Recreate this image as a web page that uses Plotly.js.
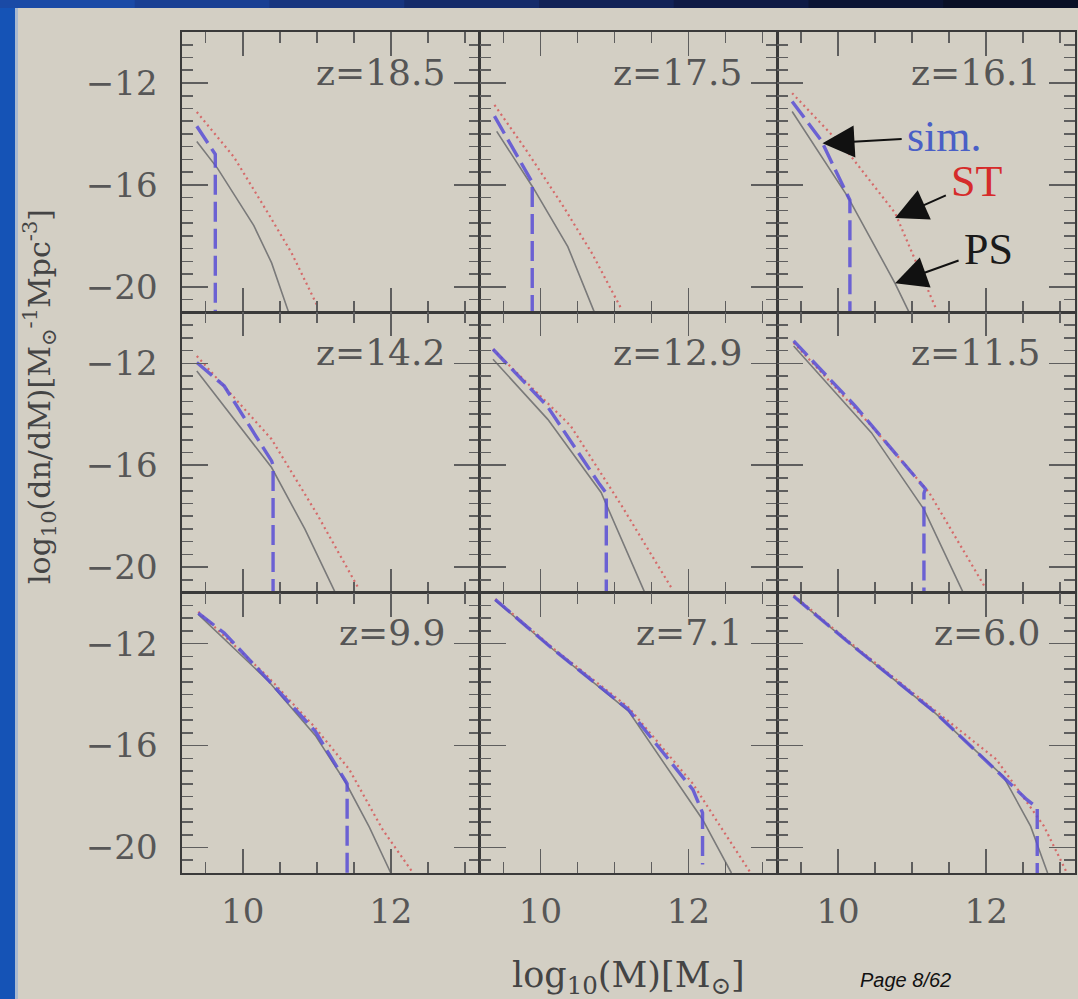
<!DOCTYPE html>
<html>
<head>
<meta charset="utf-8">
<script src="https://cdn.plot.ly/plotly-3.0.1.min.js"></script>
<style>
html,body{margin:0;padding:0;background:#d3cfc4;}
#plot{width:1078px;height:999px;}
</style>
</head>
<body>
<div id="plot"></div>
<script>
// ---- data ----
const zLabels = ['z=18.5','z=17.5','z=16.1','z=14.2','z=12.9','z=11.5','z=9.9','z=7.1','z=6.0'];

// Press-Schechter (solid gray)
const psX = [
  [9.38, 9.66, 9.90, 10.15, 10.39, 10.62],
  [9.41, 9.90, 10.37, 10.73],
  [9.38, 10.13, 10.77, 10.96],
  [9.38, 10.39, 10.84, 11.25],
  [9.36, 10.10, 10.82, 11.41],
  [9.40, 10.45, 11.16, 11.69],
  [9.40, 10.34, 10.98, 11.39, 11.71, 12.00],
  [9.39, 10.18, 11.19, 12.19, 12.58],
  [9.40, 10.18, 11.32, 12.23, 12.60, 12.83]
];
const psY = [
  [-14.30, -15.35, -16.45, -17.60, -19.06, -21.0],
  [-13.90, -16.10, -18.42, -21.0],
  [-13.12, -16.46, -19.86, -21.0],
  [-12.30, -16.09, -18.51, -21.0],
  [-11.84, -14.20, -17.07, -21.0],
  [-11.32, -14.72, -17.73, -21.0],
  [-10.85, -13.45, -15.60, -17.45, -19.20, -21.0],
  [-10.30, -12.25, -14.65, -18.90, -21.0],
  [-10.15, -12.05, -14.75, -17.20, -19.16, -21.0]
];

// Sheth-Tormen (dotted red)
const stX = [
  [9.38, 9.88, 10.34, 10.66, 11.00],
  [9.38, 9.80, 10.30, 10.70, 11.10],
  [9.38, 10.10, 10.77, 11.32],
  [9.38, 10.39, 11.00, 11.57],
  [9.36, 10.41, 11.10, 11.78],
  [9.40, 10.45, 11.23, 12.00],
  [9.40, 10.34, 10.98, 11.44, 11.89, 12.30],
  [9.39, 10.18, 11.19, 12.06, 12.37, 12.84],
  [9.40, 10.18, 11.32, 12.14, 12.78, 13.08]
];
const stY = [
  [-13.14, -14.90, -17.10, -18.67, -20.70],
  [-12.86, -14.60, -16.80, -18.70, -20.90],
  [-12.40, -14.60, -17.10, -20.84],
  [-11.71, -14.98, -17.90, -20.86],
  [-11.45, -14.46, -17.60, -20.86],
  [-11.19, -14.46, -17.07, -20.86],
  [-10.75, -13.30, -15.30, -16.94, -19.30, -21.0],
  [-10.25, -12.20, -14.50, -17.50, -18.90, -21.0],
  [-10.10, -12.00, -14.65, -16.55, -19.16, -20.93]
];

// Simulation (dashed blue) incl. the drop to the last bin
const simX = [
  [9.38, 9.63, 9.63],
  [9.38, 9.89, 9.89],
  [9.38, 9.77, 10.16, 10.16],
  [9.38, 9.75, 10.39, 10.41, 10.41],
  [9.36, 10.09, 10.80, 10.89, 10.89],
  [9.40, 10.23, 11.18, 11.16, 11.16],
  [9.40, 9.75, 10.34, 10.98, 11.39, 11.41, 11.41],
  [9.39, 10.18, 11.19, 12.06, 12.19, 12.19],
  [9.40, 10.18, 11.32, 12.55, 12.69, 12.69]
];
const simY = [
  [-13.70, -14.80, -21.0],
  [-13.30, -15.90, -21.0],
  [-12.73, -14.24, -16.60, -21.0],
  [-11.97, -12.89, -15.83, -16.00, -21.0],
  [-11.45, -13.67, -16.75, -17.10, -21.0],
  [-11.12, -13.67, -16.93, -17.10, -21.0],
  [-10.80, -11.58, -13.41, -15.44, -17.40, -17.50, -21.0],
  [-10.27, -12.24, -14.59, -17.73, -18.64, -20.67],
  [-10.14, -12.04, -14.72, -18.12, -18.44, -21.0]
];

// legend labels in the z=16.1 panel
const keyNames = ['sim.', 'ST', 'PS'];
const keyTipX = [9.79, 10.77, 10.77];
const keyTipY = [-14.37, -17.30, -19.86];
const keyTextX = [11.44, 11.87, 12.03];
const keyTextY = [-14.10, -15.87, -18.55];
const keyColors = ['#4a5fc6', '#d62b2b', '#1a1a1a'];

const xTitle = 'log<sub>10</sub>(M)[M<sub>⊙</sub>]';
const yTitle = 'log<sub>10</sub>(dn/dM)[M<sub>⊙</sub><sup>-1</sup>Mpc<sup>-3</sup>]';
const pageText = 'Page 8/62';

// ---- build figure ----
const serif = 'DejaVu Serif, serif';
const traces = [];
const layout = {
  width: 1078, height: 999,
  margin: {l: 182, r: 3, t: 32, b: 126},
  paper_bgcolor: '#d3cfc4',
  plot_bgcolor: 'rgba(0,0,0,0)',
  showlegend: false,
  annotations: [],
  shapes: []
};

for (let i = 0; i < 9; i++) {
  const r = Math.floor(i / 3), c = i % 3;
  const n = i === 0 ? '' : String(i + 1);
  const xa = 'x' + n, ya = 'y' + n;
  traces.push({x: psX[i], y: psY[i], xaxis: xa, yaxis: ya, mode: 'lines',
    line: {color: '#7a7a7a', width: 1.6}, hoverinfo: 'skip'});
  traces.push({x: stX[i], y: stY[i], xaxis: xa, yaxis: ya, mode: 'lines',
    line: {color: '#d56a6a', width: 2.2, dash: '2px,3.5px'}, hoverinfo: 'skip'});
  traces.push({x: simX[i], y: simY[i], xaxis: xa, yaxis: ya, mode: 'lines',
    line: {color: 'rgba(88,78,214,0.85)', width: 3.4, dash: '20px,7px'}, hoverinfo: 'skip'});

  layout['xaxis' + n] = {
    domain: [c / 3, (c + 1) / 3], anchor: ya,
    range: [9.18, 13.2], tickmode: 'linear', tick0: 10, dtick: 2,
    ticks: 'inside', ticklen: 24, tickwidth: 1.6, tickcolor: '#5e5e5e',
    minor: {dtick: 0.5, tick0: 10, ticks: 'inside', ticklen: 11, tickwidth: 1.6, tickcolor: '#5e5e5e'},
    showline: true, linecolor: '#3a3a3a', linewidth: 1.6, mirror: 'ticks',
    showgrid: false, zeroline: false,
    showticklabels: r === 2, ticklabelstandoff: 8,
    tickfont: {family: serif, size: 34, color: '#575757'}
  };
  layout['yaxis' + n] = {
    domain: [(2 - r) / 3, (3 - r) / 3], anchor: xa,
    range: [-21, -10], tickmode: 'linear', tick0: -12, dtick: 4,
    ticks: 'inside', ticklen: 26, tickwidth: 1.6, tickcolor: '#5e5e5e',
    minor: {dtick: 0.5, tick0: -12, ticks: 'inside', ticklen: 11, tickwidth: 1.6, tickcolor: '#5e5e5e'},
    showline: true, linecolor: '#3a3a3a', linewidth: 1.6, mirror: 'ticks',
    showgrid: false, zeroline: false,
    showticklabels: c === 0, ticklabelstandoff: 16,
    tickfont: {family: serif, size: 34, color: '#575757'}
  };
  layout.annotations.push({
    text: zLabels[i], xref: xa + ' domain', yref: ya + ' domain',
    x: 1, y: 1, xshift: -33, yshift: -40, xanchor: 'right', yanchor: 'middle',
    showarrow: false, font: {family: serif, size: 36, color: '#555555'}
  });
}

// keys with arrows in panel 3
for (let k = 0; k < keyNames.length; k++) {
  layout.annotations.push({
    text: keyNames[k], xref: 'x3', yref: 'y3', x: keyTipX[k], y: keyTipY[k],
    axref: 'x3', ayref: 'y3', ax: keyTextX[k], ay: keyTextY[k],
    showarrow: true, arrowhead: 2, arrowsize: 3.2, arrowwidth: 2, arrowcolor: '#111111',
    standoff: 0, startstandoff: 4,
    font: {family: 'Liberation Serif, serif', size: 44, color: keyColors[k]}
  });
}

// axis titles and page number
layout.annotations.push({
  text: xTitle, xref: 'paper', yref: 'paper', x: 0.4995, y: -0.124,
  xanchor: 'center', yanchor: 'middle', showarrow: false,
  font: {family: serif, size: 35, color: '#444444'}
});
layout.annotations.push({
  text: yTitle, xref: 'paper', yref: 'paper', x: -0.159, y: 0.566,
  xanchor: 'center', yanchor: 'middle', textangle: -90, showarrow: false,
  font: {family: serif, size: 30, color: '#444444'}
});
layout.annotations.push({
  text: '<i>' + pageText + '</i>', xref: 'paper', yref: 'paper', x: 0.81, y: -0.127,
  xanchor: 'center', yanchor: 'middle', showarrow: false,
  font: {family: 'Liberation Sans, Arial, sans-serif', size: 20, color: '#111111'}
});

// slide decoration: blue frame strips (gradient approximated in bands)
const pxX = v => (v - 182) / 893;
const pxY = v => (873 - v) / 841;
layout.shapes.push({type: 'rect', xref: 'paper', yref: 'paper', layer: 'below',
  x0: pxX(0), x1: pxX(15), y0: pxY(999), y1: pxY(0), line: {width: 0}, fillcolor: '#1553b6'});
layout.shapes.push({type: 'rect', xref: 'paper', yref: 'paper', layer: 'below',
  x0: pxX(15), x1: pxX(18), y0: pxY(999), y1: pxY(8), line: {width: 0}, fillcolor: '#a9b9cf'});
const barCols = ['#1a4aa6', '#193f93', '#17357f', '#142b6a', '#112257', '#0e1a45', '#0b1434', '#090f26'];
for (let b = 0; b < barCols.length; b++) {
  layout.shapes.push({type: 'rect', xref: 'paper', yref: 'paper', layer: 'below',
    x0: pxX(b * 1078 / barCols.length), x1: pxX((b + 1) * 1078 / barCols.length + 1),
    y0: pxY(8), y1: pxY(0), line: {width: 0}, fillcolor: barCols[b]});
}

Plotly.newPlot('plot', traces, layout, {displayModeBar: false, staticPlot: true});
</script>
</body>
</html>
